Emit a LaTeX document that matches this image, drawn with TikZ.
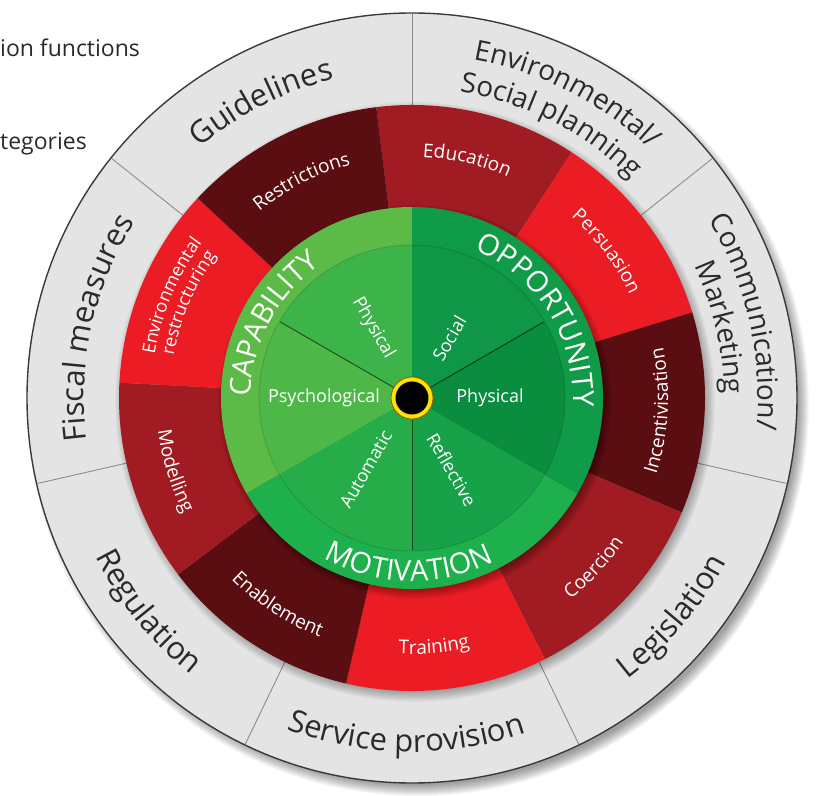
\documentclass[tikz,border=0pt]{standalone}
\usepackage{fontspec}
\setmainfont{Open Sans}
\usetikzlibrary{decorations.text}
\definecolor{ringgray}{HTML}{E4E4E4}
\definecolor{ringedge}{HTML}{3A3A3A}
\definecolor{sepgray}{HTML}{8C8C8C}
\definecolor{redmid}{HTML}{A01B22}
\definecolor{redbright}{HTML}{EC1C24}
\definecolor{reddark}{HTML}{5B0E11}
\definecolor{capband}{HTML}{5CBA47}
\definecolor{motband}{HTML}{1EB04C}
\definecolor{oppband}{HTML}{109B48}
\definecolor{capphys}{HTML}{3DB449}
\definecolor{cappsy}{HTML}{4DB848}
\definecolor{motaut}{HTML}{27AC4A}
\definecolor{motref}{HTML}{17A249}
\definecolor{oppphys}{HTML}{0B8D3F}
\definecolor{oppsoc}{HTML}{0F9646}
\definecolor{graytext}{HTML}{2A2A2A}
\newcommand\wpie[4]{\fill[#1] (0pt,0pt) -- (#2:#4) arc[start angle=#2,end angle=#3,radius=#4] -- cycle;}
\newcommand\cwtext[5]{\path[decorate,decoration={text along path,text align=center,text color=#4,text={|\fontsize{#3}{#3}\selectfont|#5}}] (#1+70:#2) arc[start angle=#1+70,end angle=#1-70,radius=#2];}
\newcommand\ccwtext[5]{\path[decorate,decoration={text along path,text align=center,text color=#4,text={|\fontsize{#3}{#3}\selectfont|#5}}] (#1-70:#2) arc[start angle=#1-70,end angle=#1+70,radius=#2];}
\tikzset{
  innerlabel/.style={text=white,font=\fontsize{18}{18}\selectfont,inner sep=0pt},
  legendtext/.style={text=graytext,font=\fontsize{23}{23}\selectfont,inner sep=0pt,anchor=base west},
  divider/.style={black,opacity=0.55,line width=1pt},
  separator/.style={sepgray,line width=0.9pt}
}
\begin{document}
\begin{tikzpicture}
\useasboundingbox (0pt,0pt) rectangle (816pt,795pt);
\fill[white] (0pt,0pt) rectangle (816pt,795pt);
% legend fragments
\node[legendtext] (leg1) at (0pt,738pt) {ion functions};
\node[legendtext] (leg2) at (0pt,645pt) {tegories};
\begin{scope}[shift={(412pt,397pt)}]
% outer drop shadow
\foreach \i in {0,...,11} {\fill[black,opacity=0.035] (6pt,-7pt) circle[radius={(380+\i)*1pt}];}
% gray ring
\fill[ringgray] (0pt,0pt) circle[radius=385pt];
\draw[ringedge,line width=1.4pt] (0pt,0pt) circle[radius=385pt];
\foreach \a in {90,38.571,-12.857,-64.286,-115.714,-167.143,141.429} {\draw[separator] (\a:293pt) -- (\a:384pt);}
% red ring shadow
\foreach \i in {0,...,9} {\fill[black,opacity=0.035] (3pt,-4pt) circle[radius={(289+\i*1.2)*1pt}];}
% red sectors
\wpie{redmid}{57}{97}{293pt}
\wpie{redbright}{17}{57}{293pt}
\wpie{reddark}{-23}{17}{293pt}
\wpie{redmid}{-63}{-23}{293pt}
\wpie{redbright}{-103}{-63}{293pt}
\wpie{reddark}{-143}{-103}{293pt}
\wpie{redmid}{-183}{-143}{293pt}
\wpie{redbright}{137}{177}{293pt}
\wpie{reddark}{97}{137}{293pt}
% green shadow
\foreach \i in {0,...,9} {\fill[black,opacity=0.04] (3pt,-4pt) circle[radius={(187+\i*1.1)*1pt}];}
% green band
\wpie{capband}{90}{210}{191pt}
\wpie{motband}{210}{330}{191pt}
\wpie{oppband}{-30}{90}{191pt}
% inner disc
\wpie{capphys}{90}{150}{153pt}
\wpie{cappsy}{150}{210}{153pt}
\wpie{motaut}{210}{270}{153pt}
\wpie{motref}{270}{330}{153pt}
\wpie{oppphys}{-30}{30}{153pt}
\wpie{oppsoc}{30}{90}{153pt}
\draw[black,opacity=0.12,line width=1pt] (0pt,0pt) circle[radius=153pt];
\draw[divider] (0pt,0pt) -- (150:152pt);
\draw[divider] (0pt,0pt) -- (30:152pt);
\draw[divider] (0pt,0pt) -- (270:152pt);
% gray ring texts
\cwtext{117}{328pt}{31}{graytext}{Guidelines}
\cwtext{167.5}{328pt}{31}{graytext}{Fiscal measures}
\cwtext{63}{344pt}{28}{graytext}{Environmental/}
\cwtext{63}{310pt}{28}{graytext}{Social planning}
\cwtext{12.9}{346pt}{28}{graytext}{Communication/}
\cwtext{12.9}{312pt}{28}{graytext}{Marketing}
\ccwtext{-40}{354pt}{31}{graytext}{Legislation}
\ccwtext{-91}{354pt}{31}{graytext}{Service provision}
\ccwtext{-141}{354pt}{31}{graytext}{Regulation}
% red ring texts
\cwtext{117}{241pt}{19}{white}{Restrictions}
\cwtext{77}{241pt}{19}{white}{Education}
\cwtext{37}{241pt}{19}{white}{Persuasion}
\ccwtext{-3}{256pt}{19}{white}{Incentivisation}
\ccwtext{-43}{256pt}{19}{white}{Coercion}
\ccwtext{-85}{256pt}{19}{white}{Training}
\ccwtext{-123}{256pt}{19}{white}{Enablement}
\ccwtext{-163}{256pt}{19}{white}{Modelling}
\cwtext{157}{261pt}{18}{white}{Environmental}
\cwtext{157}{242pt}{18}{white}{restructuring}
% band texts
\cwtext{152}{161pt}{29}{white}{CAPABILITY}
\cwtext{32}{161pt}{29}{white}{OPPORTUNITY}
\ccwtext{-91}{183pt}{29}{white}{MOTIVATION}
% inner labels
\node[innerlabel,rotate=-60] (cphys) at (119:80pt) {Physical};
\node[innerlabel,rotate=60] (osoc) at (58:70pt) {Social};
\node[innerlabel] (ophys) at (0:78pt) {Physical};
\node[innerlabel,rotate=-60] (mref) at (299:82pt) {Reflective};
\node[innerlabel,rotate=60] (maut) at (237:85pt) {Automatic};
\node[innerlabel] (cpsy) at (180:88pt) {Psychological};
% centre
\fill[yellow!85!orange] (0pt,0pt) circle[radius=21pt];
\draw[orange!60!black,line width=0.7pt] (0pt,0pt) circle[radius=21pt];
\fill[black] (0pt,0pt) circle[radius=16.5pt];
\end{scope}
\end{tikzpicture}
\end{document}
